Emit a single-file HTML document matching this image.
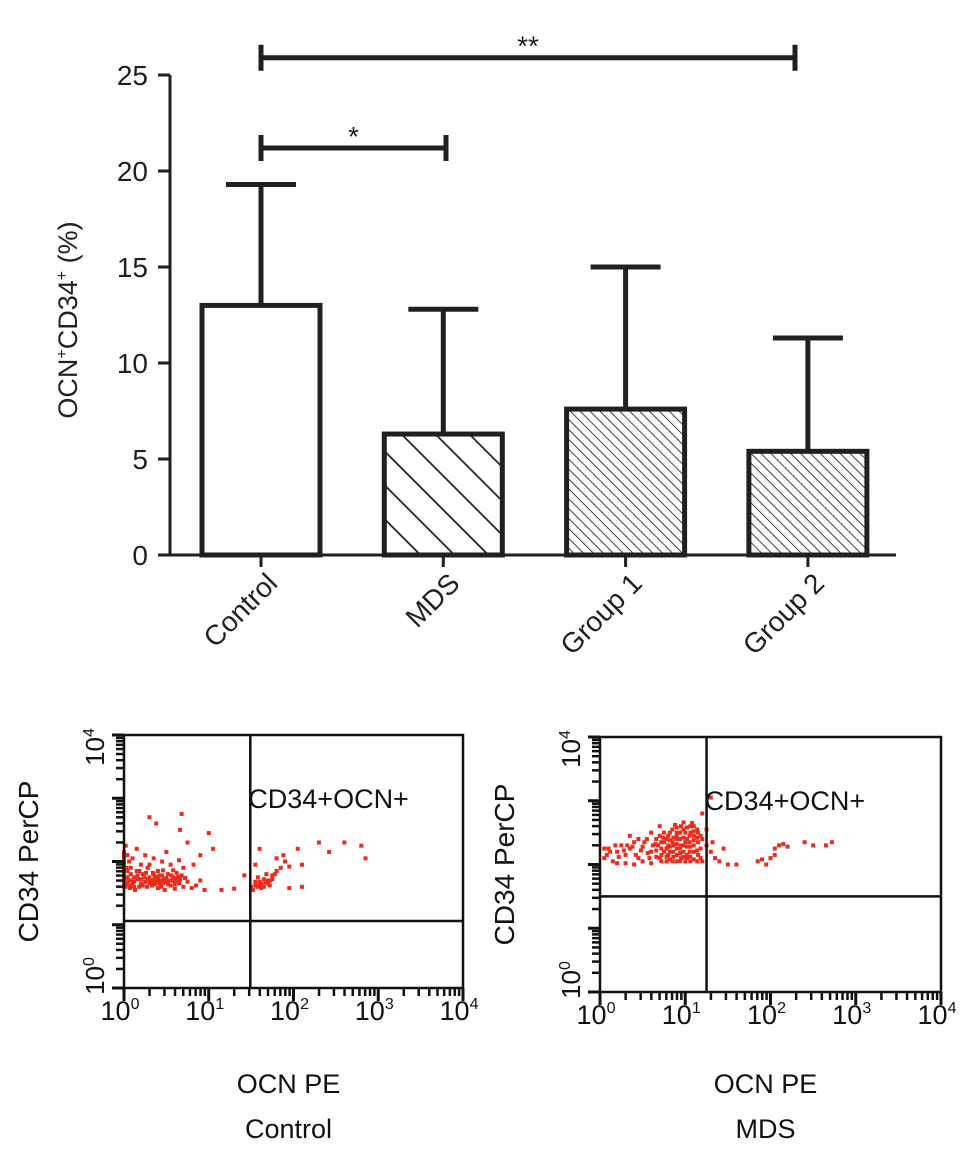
<!DOCTYPE html>
<html><head><meta charset="utf-8"><style>
html,body{margin:0;padding:0;background:#fff;}
svg{display:block;font-family:"Liberation Sans",Arial,sans-serif;}
</style></head><body>
<svg id="fig" width="972" height="1153" viewBox="0 0 972 1153">
<defs>
<pattern id="hatchWide" patternUnits="userSpaceOnUse" width="24" height="24" patternTransform="rotate(-45)">
<line x1="0" y1="0" x2="0" y2="24" stroke="#231f20" stroke-width="3.5"/></pattern>
<pattern id="hatchFine" patternUnits="userSpaceOnUse" width="7" height="7" patternTransform="rotate(-45)">
<line x1="0" y1="0" x2="0" y2="7" stroke="#231f20" stroke-width="1.7"/></pattern>
</defs>
<g id="bar"></g>
<g id="sL"></g>
<g id="sR"></g>
</svg>
<script>
const categories = ["Control","MDS","Group 1","Group 2"];
const means = [13.0, 6.3, 7.6, 5.4];
const errUpper = [19.3, 12.8, 15.0, 11.3];
const yTicks = [0,5,10,15,20,25];
const fills = ["#fff","url(#hatchWide)","url(#hatchFine)","url(#hatchFine)"];
const sigPairs = [[0,1,21.2,"*"],[0,3,25.9,"**"]];

const leftPts = [
[0.02,1.6],[0.05,1.7],[0.08,1.8],[0.03,1.9],[0.06,2.0],[0.1,1.65],[0.12,1.75],[0.15,1.85],[0.04,2.1],[0.02,2.25],
[0.18,1.6],[0.2,1.72],[0.22,1.8],[0.25,1.68],[0.28,1.9],[0.3,1.75],[0.33,1.62],[0.35,1.8],[0.38,1.7],[0.4,1.85],
[0.42,1.65],[0.45,1.78],[0.47,1.72],[0.5,1.68],[0.52,1.8],[0.55,1.62],[0.58,1.75],[0.6,1.7],[0.62,1.82],[0.65,1.66],
[0.68,1.78],[0.7,1.6],[0.72,1.74],[0.75,1.68],[0.8,1.58],[0.85,1.62],[0.9,1.7],[0.95,1.55],[0.3,1.95],[0.35,2.05],
[0.25,2.1],[0.45,2.0],[0.55,1.95],[0.65,2.02],[0.5,2.15],[0.15,2.2],[0.1,2.05],[0.4,1.58],[0.48,1.55],[0.6,1.57],
[0.32,1.7],[0.36,1.74],[0.4,1.72],[0.44,1.7],[0.37,1.66],[0.42,1.78],[0.34,1.82],[0.57,1.7],[0.6,1.74],[0.63,1.7],
[0.7,1.9],[0.82,1.95],[0.9,2.1],[1.05,2.2],[1.3,1.57],[1.15,1.55],[0.3,2.7],[0.38,2.6],[0.68,2.75],[0.66,2.5],
[0.75,2.3],[1.0,2.45],[0.0,1.8],[0.0,1.95],[0.0,2.05],[0.0,1.7],[0.07,1.58],[0.13,1.55],[0.2,1.95],[0.27,1.6],
[0.0,1.6],[0.0,1.65],[0.0,1.75],[0.0,1.85],[0.0,1.9],[0.0,2.0],[0.0,2.1],[0.0,2.15],[0.04,1.65],[0.04,1.75],
[0.04,1.85],[0.08,1.62],[0.08,1.7],[0.08,1.9],[0.12,1.6],[0.12,1.68],[0.16,1.72],[0.16,1.78],[0.2,1.65],[0.24,1.75],
[0.28,1.72],[0.3,1.66],[0.34,1.68],[0.36,1.64],[0.38,1.76],[0.42,1.7],[0.46,1.66],[0.5,1.74],[0.54,1.7],[0.56,1.78],
[0.6,1.64],[0.64,1.76],[0.66,1.72],[0.52,1.64],[0.44,1.6],[0.22,1.62],[0.18,1.85],[0.26,1.82],[0.46,1.86],[0.58,1.86],
[1.5,1.6],[1.55,1.68],[1.6,1.62],[1.65,1.72],[1.7,1.65],[1.58,1.75],[1.52,1.55],[1.62,1.58],[1.68,1.8],[1.75,1.78],
[1.8,1.85],[1.85,1.9],[1.9,2.0],[1.95,1.92],[1.72,1.7],[1.8,2.05],[1.88,2.1],[2.05,2.2],[2.1,1.95],[1.6,2.2],
[1.55,1.95],[2.3,2.3],[2.42,2.15],[2.6,2.3],[2.8,2.25],[2.85,2.05],[1.42,1.78],[1.95,1.58],[2.1,1.6],
[1.55,1.62],[1.6,1.68],[1.65,1.6],[1.7,1.7],[1.62,1.65],[1.67,1.67],[1.72,1.62],[1.58,1.6],[1.75,1.72],[1.78,1.8]
];
const rightPts = [
[0.05,2.1],[0.1,2.25],[0.15,2.05],[0.2,2.2],[0.25,2.3],[0.3,2.15],[0.35,2.25],[0.4,2.35],[0.45,2.1],[0.5,2.28],
[0.55,2.4],[0.6,2.2],[0.65,2.32],[0.7,2.45],[0.75,2.5],[0.8,2.3],[0.85,2.55],[0.9,2.4],[0.95,2.6],[1.0,2.35],
[1.05,2.45],[1.1,2.6],[1.15,2.5],[0.7,2.1],[0.75,2.2],[0.8,2.15],[0.85,2.05],[0.9,2.25],[0.95,2.1],[1.0,2.05],
[1.05,2.2],[1.1,2.3],[1.15,2.15],[1.2,2.05],[0.6,2.02],[0.5,2.05],[0.4,2.0],[0.3,2.02],[0.2,2.02],[0.12,2.2],
[0.85,2.35],[0.9,2.5],[0.95,2.3],[1.0,2.5],[1.05,2.35],[1.1,2.45],[1.15,2.35],[0.8,2.45],[0.75,2.35],[0.88,2.62],
[0.98,2.66],[1.08,2.65],[1.2,2.4],[1.25,2.3],[1.3,2.2],[1.35,2.1],[1.4,2.05],[1.5,2.0],[1.6,2.0],[1.45,2.25],
[1.2,2.8],[1.25,2.55],[0.7,2.6],[0.6,2.5],[0.05,2.25],[0.35,2.45],[0.45,2.4],[1.32,2.35],
[0.72,2.05],[0.72,2.15],[0.72,2.25],[0.72,2.35],[0.78,2.05],[0.78,2.12],[0.78,2.25],[0.78,2.4],[0.82,2.08],[0.82,2.2],
[0.82,2.28],[0.82,2.38],[0.82,2.5],[0.86,2.12],[0.86,2.2],[0.86,2.3],[0.86,2.42],[0.9,2.05],[0.9,2.15],[0.9,2.32],
[0.9,2.45],[0.9,2.58],[0.94,2.05],[0.94,2.18],[0.94,2.25],[0.94,2.4],[0.94,2.5],[0.98,2.12],[0.98,2.2],[0.98,2.3],
[0.98,2.42],[0.98,2.55],[1.02,2.1],[1.02,2.15],[1.02,2.28],[1.02,2.4],[1.02,2.58],[1.06,2.05],[1.06,2.12],[1.06,2.28],
[1.06,2.5],[1.06,2.6],[1.1,2.08],[1.1,2.2],[1.1,2.38],[1.1,2.52],[1.14,2.05],[1.14,2.22],[1.14,2.42],[1.14,2.55],
[1.18,2.1],[1.18,2.25],[1.18,2.45],[0.66,2.12],[0.66,2.22],[0.66,2.4],[0.62,2.3],[0.56,2.18],[0.52,2.35],[0.48,2.22],
[0.42,2.15],[0.38,2.28],[0.32,2.3],[0.28,2.22],[0.22,2.12],[0.18,2.3],[0.08,2.15],[0.58,2.1],[0.68,2.3],[0.74,2.42],
[1.85,2.05],[1.9,2.08],[1.95,2.0],[2.0,2.1],[2.05,2.25],[2.1,2.3],[2.15,2.32],[2.2,2.28],[2.05,2.15],
[2.4,2.35],[2.5,2.3],[2.65,2.3],[2.72,2.35],[1.3,3.05]
];

const svg = document.getElementById('fig');
const NS = "http://www.w3.org/2000/svg";
function mk(parent, tag, attrs, txt){
  const e = document.createElementNS(NS, tag);
  for (const k in attrs) e.setAttribute(k, attrs[k]);
  if (txt !== undefined) e.textContent = txt;
  parent.appendChild(e); return e;
}
const C = "#231f20";

const bar = document.getElementById('bar');
const axX = 170, y0px = 555, pxPerUnit = 19.2;
const yS = v => y0px - v * pxPerUnit;
const xC = i => 261 + i * 182.3;
const bw = 118;
let ax = mk(bar,'line',{x1:axX,y1:yS(25),x2:axX,y2:y0px,stroke:C,'stroke-width':3});


yTicks.forEach(t=>{
  let l = mk(bar,'line',{x1:axX-12,y1:yS(t),x2:axX,y2:yS(t),stroke:C,'stroke-width':3});
  
  
  let tx = mk(bar,'text',{x:axX-22,y:yS(t)+10,'text-anchor':'end','font-size':28,fill:C},String(t));
  
  
});
let xa = mk(bar,'line',{x1:axX,y1:y0px,x2:896,y2:y0px,stroke:C,'stroke-width':3});


let yt = mk(bar,'text',{x:0,y:0,'text-anchor':'middle','font-size':27,fill:C,transform:'translate(77,320) rotate(-90)'});
yt.innerHTML = 'OCN<tspan font-size="16" dy="-10">+</tspan><tspan dy="10">CD34</tspan><tspan font-size="16" dy="-10">+</tspan><tspan dy="10"> (%)</tspan>';


categories.forEach((c,i)=>{
  const cx = xC(i);
  let e = mk(bar,'line',{x1:cx,y1:yS(errUpper[i]),x2:cx,y2:yS(means[i]),stroke:C,'stroke-width':5});
  
  
  let cap = mk(bar,'line',{x1:cx-35,y1:yS(errUpper[i]),x2:cx+35,y2:yS(errUpper[i]),stroke:C,'stroke-width':5});
  
  
  let r = mk(bar,'rect',{x:cx-bw/2,y:yS(means[i]),width:bw,height:y0px-yS(means[i]),fill:fills[i],stroke:C,'stroke-width':5});
  
  
  let tk = mk(bar,'line',{x1:cx,y1:y0px,x2:cx,y2:y0px+12,stroke:C,'stroke-width':3});
  
  
  let lb = mk(bar,'text',{x:0,y:0,'text-anchor':'end','font-size':28,fill:C,transform:`translate(${cx+18},${y0px+30}) rotate(-45)`},c);
  
  
});
sigPairs.forEach(p=>{
  const x1 = xC(p[0]), x2 = p[1]===3 ? 795 : 446, y = yS(p[2]);
  let g = mk(bar,'path',{d:`M${x1} ${y-13}V${y+13}M${x1} ${y}H${x2}M${x2} ${y-13}V${y+13}`,stroke:C,'stroke-width':5,fill:'none'});
  
  
  let s = mk(bar,'text',{x:(x1+x2)/2,y:y-2,'text-anchor':'middle','font-size':28,fill:C},p[3]);
  
  
});

function scatter(g, box, pts, qx, qy, name){
  const {l,r,t,b} = box;
  const dx = (r-l)/4, dy = (b-t)/4;
  const X = d => l + d*dx, Y = d => b - d*dy;
  pts.forEach(p=>{
    let d = mk(g,'rect',{x:X(p[0])-2,y:Y(p[1])-2,width:4,height:4,fill:'#ee2a1b'});
    
    
  });
  let fr = mk(g,'rect',{x:l,y:t,width:r-l,height:b-t,fill:'none',stroke:'#111','stroke-width':2.5});
  
  
  let vq = mk(g,'line',{x1:X(qx),y1:t,x2:X(qx),y2:b,stroke:'#111','stroke-width':2.5});
  
  
  let hq = mk(g,'line',{x1:l,y1:Y(qy),x2:r,y2:Y(qy),stroke:'#111','stroke-width':2.5});
  
  
  for(let k=0;k<=4;k++){
    let mj = mk(g,'line',{x1:l-12,y1:Y(k),x2:l,y2:Y(k),stroke:'#111','stroke-width':3});
    
    
    let mx = mk(g,'line',{x1:X(k),y1:b,x2:X(k),y2:b+13,stroke:'#111','stroke-width':3});
    
    
    let tl = mk(g,'text',{x:X(k)-4,y:b+32,'text-anchor':'middle','font-size':27,fill:'#111'});
    tl.innerHTML = '10<tspan font-size="16" dy="-11">'+k+'</tspan>';
    
    
    if(k<4){
      for(let m=2;m<=9;m++){
        const f = k+Math.log10(m);
        let mn = mk(g,'line',{x1:l-8,y1:Y(f),x2:l,y2:Y(f),stroke:'#111','stroke-width':2.5});
        
        
        let mnx = mk(g,'line',{x1:X(f),y1:b,x2:X(f),y2:b+8,stroke:'#111','stroke-width':2.5});
        
        
      }
    }
  }
  [0,4].forEach(k=>{
    let tl = mk(g,'text',{x:0,y:0,'text-anchor':'middle','font-size':26,fill:'#111',transform:`translate(${l-20},${Y(k)+(k?12:-12)}) rotate(-90)`});
    tl.innerHTML = '10<tspan font-size="16" dy="-10">'+k+'</tspan>';
    
    
  });
  let q = mk(g,'text',{x:X(qx)-2,y:t+73,'font-size':27,fill:'#111'},'CD34+OCN+');
  
  
  let yl = mk(g,'text',{x:0,y:0,'text-anchor':'middle','font-size':28,fill:'#111',transform:`translate(${l-86},${(t+b)/2}) rotate(-90)`},'CD34 PerCP');
  
  
  let xl = mk(g,'text',{x:(l+r)/2-5,y:1093,'text-anchor':'middle','font-size':27,fill:'#111'},'OCN PE');
  
  
  let nm = mk(g,'text',{x:(l+r)/2-5,y:1138,'text-anchor':'middle','font-size':27,fill:'#111'},name);
  
  
}
scatter(document.getElementById('sL'),{l:124,r:463,t:735,b:988},leftPts,1.49,1.06,'Control');
scatter(document.getElementById('sR'),{l:600,r:941,t:737,b:992},rightPts,1.25,1.5,'MDS');
</script>
</body></html>
